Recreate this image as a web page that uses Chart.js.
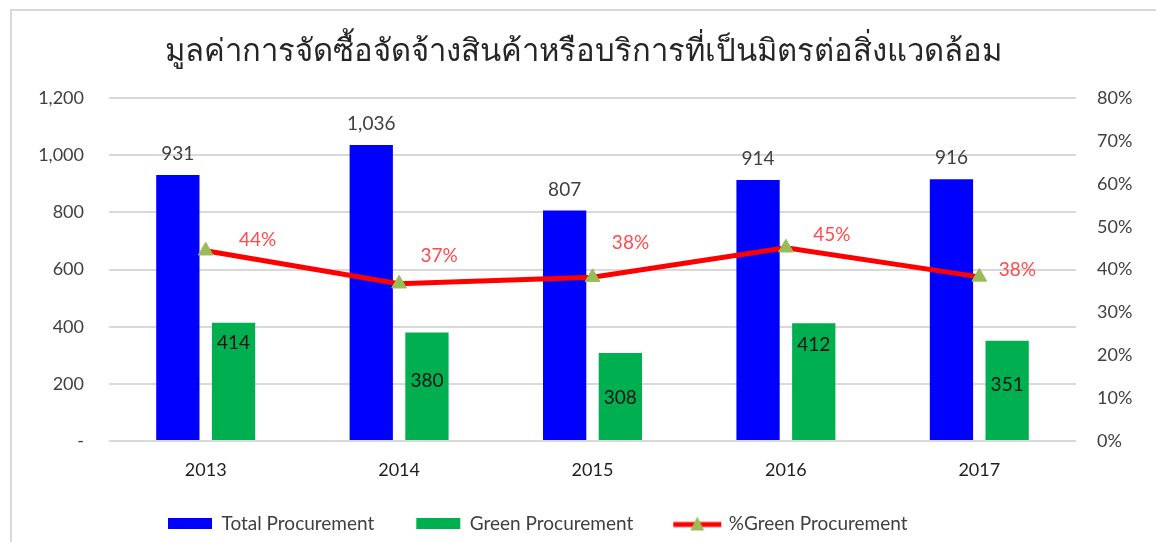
<!DOCTYPE html>
<html>
<head>
<meta charset="utf-8">
<script src="https://cdn.jsdelivr.net/npm/chart.js@4/dist/chart.umd.min.js"></script>
<style>
  html, body { margin: 0; padding: 0; background: #fff; overflow: hidden; }
  .frame { position: absolute; left: 10px; top: 9px; width: 1200px; height: 600px; border: 2px solid #d9d9d9; }
  .wrap { position: absolute; left: 0; top: 0; width: 1156px; height: 542px; }
</style>
</head>
<body>
<div class="frame"></div>
<div class="wrap"><canvas id="chart"></canvas></div>
<script>
  const years = ["2013", "2014", "2015", "2016", "2017"];
  const totalProcurement = [931, 1036, 807, 914, 916];
  const greenProcurement = [414, 380, 308, 412, 351];
  const greenPercent = [0.444, 0.367, 0.382, 0.451, 0.383];

  const leftTicks = [0, 200, 400, 600, 800, 1000, 1200];
  const rightTicks = [0, 0.1, 0.2, 0.3, 0.4, 0.5, 0.6, 0.7, 0.8];

  // label placement, in pixels from the mark
  const greenLabelDrop = [20, 48, 45, 22, 44];
  const pctLabelShift = [[52, -11], [40, -28], [38, -34], [46, -13], [38, -7]];

  const FONT = "Lato, 'Open Sans', sans-serif";

  // little line + triangle swatch for the legend
  function lineSwatch() {
    const c = document.createElement("canvas");
    c.width = 50;
    c.height = 18;
    const g = c.getContext("2d");
    g.strokeStyle = "#ff0000";
    g.lineWidth = 5;
    g.beginPath();
    g.moveTo(1, 10);
    g.lineTo(49, 10);
    g.stroke();
    g.fillStyle = "#9bbb59";
    g.beginPath();
    g.moveTo(25, 2);
    g.lineTo(32, 16);
    g.lineTo(18, 16);
    g.closePath();
    g.fill();
    return c;
  }

  const valueLabels = {
    id: "valueLabels",
    afterDatasetsDraw(chart) {
      const ctx = chart.ctx;
      ctx.save();
      ctx.textAlign = "center";
      ctx.textBaseline = "middle";
      ctx.font = "19px " + FONT;

      chart.getDatasetMeta(0).data.forEach((bar, i) => {
        ctx.fillStyle = "#404040";
        ctx.fillText(totalProcurement[i].toLocaleString("en-US"), bar.x, bar.y - 21);
      });

      chart.getDatasetMeta(1).data.forEach((bar, i) => {
        ctx.fillStyle = "#141414";
        ctx.fillText(String(greenProcurement[i]), bar.x, bar.y + greenLabelDrop[i]);
      });

      chart.getDatasetMeta(2).data.forEach((pt, i) => {
        ctx.fillStyle = "#ff4b4b";
        ctx.fillText(Math.round(greenPercent[i] * 100) + "%", pt.x + pctLabelShift[i][0], pt.y + pctLabelShift[i][1]);
      });
      ctx.restore();
    }
  };

  // Excel put the legend a bit left of centre
  const legendPlace = {
    id: "legendPlace",
    afterLayout(chart) {
      chart.legend.left = 126;
      chart.legend.top = 472;
    }
  };

  new Chart(document.getElementById("chart"), {
    data: {
      labels: years,
      datasets: [
        {
          type: "bar",
          label: "Total Procurement",
          data: totalProcurement,
          backgroundColor: "#0000ff",
          yAxisID: "y",
          order: 2,
          categoryPercentage: 0.576,
          barPercentage: 0.777
        },
        {
          type: "bar",
          label: "Green Procurement",
          data: greenProcurement,
          backgroundColor: "#00b050",
          yAxisID: "y",
          order: 2,
          categoryPercentage: 0.576,
          barPercentage: 0.777
        },
        {
          type: "line",
          label: "%Green Procurement",
          data: greenPercent,
          borderColor: "#ff0000",
          borderWidth: 5,
          tension: 0,
          pointStyle: "triangle",
          pointRadius: 8.5,
          pointBackgroundColor: "#9bbb59",
          pointBorderColor: "#9bbb59",
          pointBorderWidth: 1,
          yAxisID: "y1",
          order: 1
        }
      ]
    },
    options: {
      responsive: true,
      maintainAspectRatio: false,
      animation: false,
      layout: {
        padding: { left: 10, right: 0, top: 32, bottom: -14 }
      },
      plugins: {
        tooltip: { enabled: false },
        title: {
          display: true,
          text: "มูลค่าการจัดซื้อจัดจ้างสินค้าหรือบริการที่เป็นมิตรต่อสิ่งแวดล้อม",
          color: "#262626",
          font: { size: 31, weight: "normal", family: FONT, lineHeight: 1.2 },
          padding: { top: 0, bottom: 29 }
        },
        legend: {
          position: "bottom",
          align: "start",
          labels: {
            usePointStyle: true,
            pointStyleWidth: 44,
            boxHeight: 11,
            padding: 42,
            color: "#404040",
            font: { size: 19, family: FONT },
            sort: (a, b) => a.datasetIndex - b.datasetIndex,
            generateLabels(chart) {
              const items = Chart.defaults.plugins.legend.labels.generateLabels(chart);
              items.forEach((item) => {
                if (item.datasetIndex === 2) {
                  item.pointStyle = lineSwatch();
                } else {
                  item.pointStyle = "rect";
                  item.lineWidth = 0;
                }
              });
              return items;
            }
          }
        }
      },
      scales: {
        x: {
          grid: { display: false, drawTicks: false },
          border: { display: false },
          ticks: {
            color: "#1f1f1f",
            padding: 18,
            font: { size: 18, family: FONT }
          },
          afterFit(scale) {
            scale.height = 44;
          }
        },
        y: {
          position: "left",
          min: 0,
          max: 1200,
          afterBuildTicks(scale) {
            scale.ticks = leftTicks.map((v) => ({ value: v }));
          },
          grid: { color: "#d9d9d9", lineWidth: 2, drawTicks: false },
          border: { display: false },
          ticks: {
            color: "#404040",
            padding: 25,
            font: { size: 18, family: FONT },
            callback: (v) => (v === 0 ? "-" : v.toLocaleString("en-US"))
          },
          afterFit(scale) {
            scale.width = 99;
          }
        },
        y1: {
          position: "right",
          min: 0,
          max: 0.8,
          afterBuildTicks(scale) {
            scale.ticks = rightTicks.map((v) => ({ value: v }));
          },
          grid: { display: false, drawTicks: false },
          border: { display: false },
          ticks: {
            color: "#404040",
            padding: 21,
            font: { size: 18, family: FONT },
            callback: (v) => Math.round(v * 100) + "%"
          },
          afterFit(scale) {
            scale.width = 80;
          }
        }
      }
    },
    plugins: [valueLabels, legendPlace]
  });
</script>
</body>
</html>
